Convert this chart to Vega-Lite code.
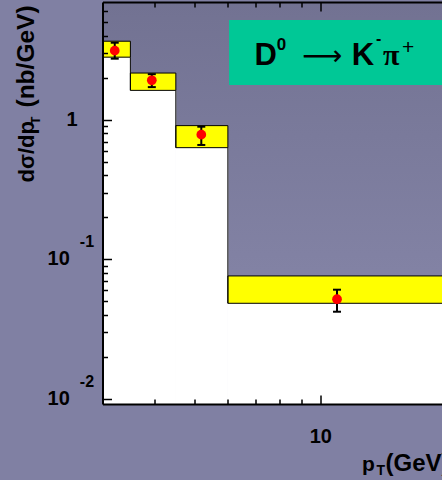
{
  "$schema": "https://vega.github.io/schema/vega-lite/v6.json",
  "width": 339.5,
  "height": 402,
  "autosize": {"type": "none"},
  "padding": {"left": 102.5, "top": 2, "right": 0, "bottom": 76},
  "background": "#8080a3",
  "config": {
    "view": {"stroke": null, "fill": {"gradient": "linear", "x1": 0, "y1": 0, "x2": 0, "y2": 1, "stops": [{"offset": 0, "color": "#727292"}, {"offset": 1, "color": "#8a8aad"}]}},
    "axis": {"domainColor": "black", "tickColor": "black", "labelColor": "black", "titleColor": "black", "labelFont": "Liberation Sans", "titleFont": "Liberation Sans", "labelFontWeight": "bold", "titleFontWeight": "bold", "grid": false, "domainWidth": 2, "tickWidth": 1.5, "zindex": 2},
    "text": {"font": "Liberation Sans", "fontWeight": "bold", "color": "black"}
  },
  "datasets": {
    "bins": [
      {"x0": 3, "x1": 3.5, "lo": 2.82, "hi": 3.67, "px": 3.21, "y": 3.14, "elo": 2.75, "ehi": 3.58},
      {"x0": 3.5, "x1": 4.5, "lo": 1.63, "hi": 2.17, "px": 3.94, "y": 1.925, "elo": 1.72, "ehi": 2.13},
      {"x0": 4.5, "x1": 6, "lo": 0.633, "hi": 0.911, "px": 5.18, "y": 0.785, "elo": 0.662, "ehi": 0.895},
      {"x0": 6, "x1": 20, "lo": 0.0485, "hi": 0.0762, "px": 10.97, "y": 0.0519, "elo": 0.0422, "ehi": 0.0607}
    ],
    "steps": [
      {"x": 3.5, "a": 2.82, "b": 1.63},
      {"x": 4.5, "a": 1.63, "b": 0.633},
      {"x": 6, "a": 0.633, "b": 0.0485}
    ],
    "sups": [
      {"v": 0.1, "base": "10", "sup": "-1"},
      {"v": 0.01, "base": "10", "sup": "-2"}
    ]
  },
  "layer": [
    {
      "data": {"name": "bins"},
      "mark": {"type": "rect", "fill": "white", "stroke": "white", "strokeWidth": 1, "clip": true},
      "encoding": {
        "x": {"field": "x0", "type": "quantitative", "scale": {"type": "log", "domain": [3, 19.6], "nice": false},
          "axis": {"zindex": 1, "orient": "bottom", "values": [10], "ticks": false, "labelExpr": "'10'", "labelFontSize": 20, "labelPadding": 22.5, "title": "p", "titleFontSize": 21, "titleX": 259, "titleY": 66, "titleAlign": "left", "titleBaseline": "alphabetic"}},
        "x2": {"field": "x1"},
        "y": {"field": "lo", "type": "quantitative", "scale": {"type": "log", "domain": [0.0092, 7.01], "nice": false},
          "axis": {"zindex": 1, "orient": "left", "values": [0.01, 0.1, 1], "ticks": false, "labelExpr": "datum.value == 1 ? '1' : ''", "labelFontSize": 20, "labelPadding": 25.5, "labelAlign": "right", "labelBaseline": "middle", "title": "dσ/dp", "titleFontSize": 22, "titleAngle": 270, "titleX": -69, "titleY": 180, "titleAlign": "left", "titleBaseline": "alphabetic"}},
        "y2": {"datum": 0.001}
      }
    },
    {
      "data": {"name": "bins"},
      "mark": {"type": "rect", "fill": "#ffff00", "stroke": "black", "strokeWidth": 1, "clip": true},
      "encoding": {
        "x": {"field": "x0", "type": "quantitative", "scale": {"type": "log", "domain": [3, 19.6], "nice": false},
          "axis": {"zindex": 1, "orient": "bottom", "offset": -9, "values": [10], "tickSize": 9, "labels": false, "domain": false, "title": "T", "titleFontSize": 14, "titleX": 273.5, "titleY": 79, "titleAlign": "left", "titleBaseline": "alphabetic"}},
        "x2": {"field": "x1"},
        "y": {"field": "lo", "type": "quantitative", "scale": {"type": "log", "domain": [0.0092, 7.01], "nice": false},
          "axis": {"zindex": 1, "orient": "left", "offset": -9, "values": [0.01, 0.1, 1], "tickSize": 9, "labels": false, "domain": false, "title": "T", "titleFontSize": 13, "titleAngle": 270, "titleX": -72.5, "titleY": 122, "titleAlign": "left", "titleBaseline": "alphabetic"}},
        "y2": {"field": "hi"}
      }
    },
    {
      "data": {"name": "steps"},
      "mark": {"type": "rule", "color": "black", "strokeWidth": 1},
      "encoding": {
        "x": {"field": "x", "type": "quantitative", "scale": {"type": "log", "domain": [3, 19.6], "nice": false},
          "axis": {"zindex": 1, "orient": "bottom", "offset": -5, "values": [4, 5, 6, 7, 8, 9], "tickSize": 5, "labels": false, "domain": false, "title": "(GeV)", "titleFontSize": 24, "titleX": 282.5, "titleY": 71, "titleAlign": "left", "titleBaseline": "alphabetic"}},
        "y": {"field": "a", "type": "quantitative", "scale": {"type": "log", "domain": [0.0092, 7.01], "nice": false},
          "axis": {"zindex": 1, "orient": "left", "ticks": false, "labels": false, "domain": false, "title": "(nb/GeV)", "titleFontSize": 24.5, "titleAngle": 270, "titleX": -69, "titleY": 105, "titleAlign": "left", "titleBaseline": "alphabetic"}},
        "y2": {"field": "b"}
      }
    },
    {
      "data": {"values": [{}]},
      "mark": {"type": "rule", "color": "black", "strokeWidth": 0},
      "encoding": {
        "x": {"datum": 4, "scale": {"type": "log", "domain": [3, 19.6], "nice": false},
          "axis": {"zindex": 1, "orient": "top", "values": [10], "ticks": false, "labels": false, "domain": true, "title": null}},
        "y": {"datum": 1, "scale": {"type": "log", "domain": [0.0092, 7.01], "nice": false},
          "axis": {"zindex": 1, "orient": "left", "offset": -5, "values": [0.02, 0.03, 0.04, 0.05, 0.06, 0.07, 0.08, 0.09, 0.2, 0.3, 0.4, 0.5, 0.6, 0.7, 0.8, 0.9, 2, 3, 4, 5, 6], "tickSize": 5, "labels": false, "domain": false, "title": null}}
      }
    },
    {
      "data": {"name": "bins"},
      "mark": {"type": "rule", "color": "black", "strokeWidth": 2},
      "encoding": {
        "x": {"field": "px", "type": "quantitative", "scale": {"type": "log", "domain": [3, 19.6], "nice": false},
          "axis": {"zindex": 1, "orient": "top", "offset": -9, "values": [10], "tickSize": 9, "labels": false, "domain": false, "title": null}},
        "y": {"field": "elo", "type": "quantitative", "scale": {"type": "log", "domain": [0.0092, 7.01], "nice": false}, "axis": null},
        "y2": {"field": "ehi"}
      }
    },
    {
      "data": {"name": "bins"},
      "mark": {"type": "tick", "orient": "horizontal", "color": "black", "size": 8, "thickness": 2, "opacity": 1},
      "encoding": {
        "x": {"field": "px", "type": "quantitative", "scale": {"type": "log", "domain": [3, 19.6], "nice": false},
          "axis": {"zindex": 1, "orient": "top", "offset": -5, "values": [4, 5, 6, 7, 8, 9], "tickSize": 5, "labels": false, "domain": false, "title": null}},
        "y": {"field": "elo", "type": "quantitative", "scale": {"type": "log", "domain": [0.0092, 7.01], "nice": false}, "axis": null}
      }
    },
    {
      "data": {"name": "bins"},
      "mark": {"type": "tick", "orient": "horizontal", "color": "black", "size": 8, "thickness": 2, "opacity": 1},
      "encoding": {
        "x": {"field": "px", "type": "quantitative", "scale": {"type": "log", "domain": [3, 19.6], "nice": false}, "axis": null},
        "y": {"field": "ehi", "type": "quantitative", "scale": {"type": "log", "domain": [0.0092, 7.01], "nice": false}, "axis": null}
      }
    },
    {
      "data": {"name": "bins"},
      "mark": {"type": "circle", "color": "#ff0000", "size": 95, "opacity": 1},
      "encoding": {
        "x": {"field": "px", "type": "quantitative", "scale": {"type": "log", "domain": [3, 19.6], "nice": false}, "axis": null},
        "y": {"field": "y", "type": "quantitative", "scale": {"type": "log", "domain": [0.0092, 7.01], "nice": false}, "axis": null}
      }
    },
    {
      "data": {"name": "sups"},
      "mark": {"type": "text", "fontSize": 20, "align": "right", "baseline": "middle"},
      "encoding": {
        "x": {"datum": 2.504, "scale": {"type": "log", "domain": [3, 19.6], "nice": false}, "axis": null},
        "y": {"field": "v", "type": "quantitative", "scale": {"type": "log", "domain": [0.0092, 7.01], "nice": false}, "axis": null},
        "text": {"field": "base"}
      }
    },
    {
      "data": {"name": "sups"},
      "mark": {"type": "text", "fontSize": 16, "align": "left", "baseline": "alphabetic", "dy": -12},
      "encoding": {
        "x": {"datum": 2.647, "scale": {"type": "log", "domain": [3, 19.6], "nice": false}, "axis": null},
        "y": {"field": "v", "type": "quantitative", "scale": {"type": "log", "domain": [0.0092, 7.01], "nice": false}, "axis": null},
        "text": {"field": "sup"}
      }
    },
    {
      "data": {"values": [{}]},
      "mark": {"type": "rect", "fill": "#00c896", "clip": true},
      "encoding": {
        "x": {"datum": 6.04, "scale": {"type": "log", "domain": [3, 19.6], "nice": false}, "axis": null},
        "x2": {"datum": 25},
        "y": {"datum": 5.21, "scale": {"type": "log", "domain": [0.0092, 7.01], "nice": false}, "axis": null},
        "y2": {"datum": 1.78}
      }
    },
    {
      "data": {"values": [{}]},
      "mark": {"type": "text", "fontSize": 31, "align": "left", "baseline": "alphabetic"},
      "encoding": {
        "x": {"datum": 6.95, "scale": {"type": "log", "domain": [3, 19.6], "nice": false}, "axis": null},
        "y": {"datum": 2.48, "scale": {"type": "log", "domain": [0.0092, 7.01], "nice": false}, "axis": null},
        "text": {"value": "D"}
      }
    },
    {
      "data": {"values": [{}]},
      "mark": {"type": "text", "fontSize": 17, "align": "left", "baseline": "alphabetic"},
      "encoding": {
        "x": {"datum": 7.86, "scale": {"type": "log", "domain": [3, 19.6], "nice": false}, "axis": null},
        "y": {"datum": 3.18, "scale": {"type": "log", "domain": [0.0092, 7.01], "nice": false}, "axis": null},
        "text": {"value": "0"}
      }
    },
    {
      "data": {"values": [{}]},
      "mark": {"type": "text", "fontSize": 28, "fontWeight": "normal", "align": "left", "baseline": "middle", "font": "DejaVu Sans"},
      "encoding": {
        "x": {"datum": 9.04, "scale": {"type": "log", "domain": [3, 19.6], "nice": false}, "axis": null},
        "y": {"datum": 2.83, "scale": {"type": "log", "domain": [0.0092, 7.01], "nice": false}, "axis": null},
        "text": {"value": "⟶"}
      }
    },
    {
      "data": {"values": [{}]},
      "mark": {"type": "text", "fontSize": 31, "align": "left", "baseline": "alphabetic"},
      "encoding": {
        "x": {"datum": 11.9, "scale": {"type": "log", "domain": [3, 19.6], "nice": false}, "axis": null},
        "y": {"datum": 2.48, "scale": {"type": "log", "domain": [0.0092, 7.01], "nice": false}, "axis": null},
        "text": {"value": "K"}
      }
    },
    {
      "data": {"values": [{}]},
      "mark": {"type": "text", "fontSize": 16, "align": "left", "baseline": "alphabetic"},
      "encoding": {
        "x": {"datum": 13.6, "scale": {"type": "log", "domain": [3, 19.6], "nice": false}, "axis": null},
        "y": {"datum": 3.51, "scale": {"type": "log", "domain": [0.0092, 7.01], "nice": false}, "axis": null},
        "text": {"value": "-"}
      }
    },
    {
      "data": {"values": [{}]},
      "mark": {"type": "text", "fontSize": 30, "fontWeight": "bold", "align": "left", "baseline": "alphabetic", "font": "Liberation Serif"},
      "encoding": {
        "x": {"datum": 14.15, "scale": {"type": "log", "domain": [3, 19.6], "nice": false}, "axis": null},
        "y": {"datum": 2.48, "scale": {"type": "log", "domain": [0.0092, 7.01], "nice": false}, "axis": null},
        "text": {"value": "π"}
      }
    },
    {
      "data": {"values": [{}]},
      "mark": {"type": "text", "fontSize": 21, "fontWeight": "normal", "align": "left", "baseline": "alphabetic"},
      "encoding": {
        "x": {"datum": 15.71, "scale": {"type": "log", "domain": [3, 19.6], "nice": false}, "axis": null},
        "y": {"datum": 2.95, "scale": {"type": "log", "domain": [0.0092, 7.01], "nice": false}, "axis": null},
        "text": {"value": "+"}
      }
    }
  ],
  "resolve": {"axis": {"x": "independent", "y": "independent"}}
}
